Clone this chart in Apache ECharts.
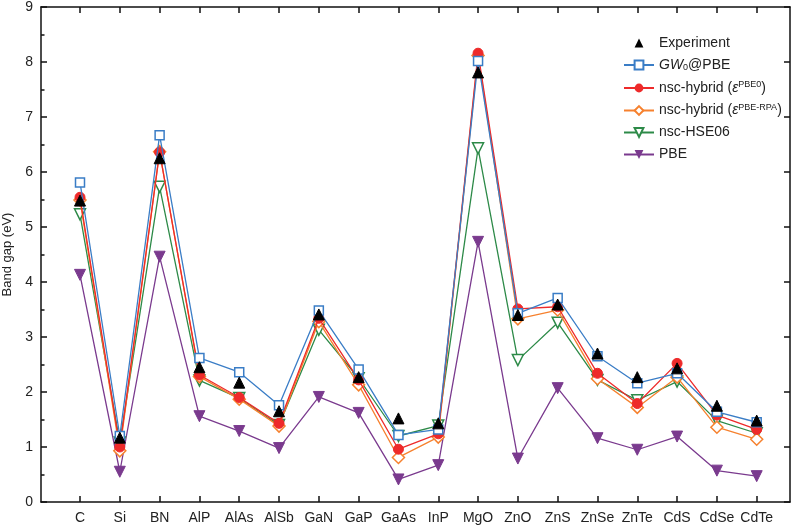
<!DOCTYPE html>
<html>
<head>
<meta charset="utf-8">
<script src="https://cdn.jsdelivr.net/npm/echarts@6/dist/echarts.min.js"></script>
<style>html,body{margin:0;padding:0;background:#fff;}#chart{width:800px;height:527px;}</style>
</head>
<body>
<div id="chart"></div>
<script>
var categories = ['C','Si','BN','AlP','AlAs','AlSb','GaN','GaP','GaAs','InP','MgO','ZnO','ZnS','ZnSe','ZnTe','CdS','CdSe','CdTe'];
var experiment = [5.48,1.17,6.25,2.45,2.17,1.65,3.41,2.27,1.52,1.43,7.81,3.40,3.59,2.70,2.27,2.43,1.75,1.48];
var gw0pbe     = [5.81,1.20,6.67,2.62,2.36,1.76,3.48,2.41,1.22,1.32,8.02,3.43,3.71,2.65,2.16,2.34,1.64,1.45];
var nscPbe0    = [5.54,1.00,6.36,2.31,1.90,1.43,3.34,2.22,0.96,1.24,8.16,3.51,3.55,2.34,1.79,2.52,1.58,1.32];
var nscRpa     = [5.49,0.93,6.37,2.28,1.87,1.38,3.28,2.13,0.81,1.18,8.12,3.33,3.49,2.24,1.72,2.27,1.36,1.14];
var nscHse06   = [5.23,1.08,5.73,2.21,1.89,1.40,3.13,2.25,1.20,1.39,6.43,2.58,3.26,2.22,1.85,2.19,1.48,1.25];
var pbe        = [4.13,0.55,4.46,1.56,1.29,0.98,1.91,1.62,0.41,0.67,4.73,0.79,2.07,1.16,0.95,1.19,0.57,0.47];
var yMin = 0, yMax = 9, yStep = 1;

var FONT = 'Liberation Sans, Arial, sans-serif';
var chart = echarts.init(document.getElementById('chart'), null, {renderer:'canvas'});
function line(show){ return {show:show, onZero:false, lineStyle:{color:'#111', width:1.5}}; }
function tick(){ return {show:true, inside:true, length:6, alignWithLabel:true, lineStyle:{color:'#111', width:1.5}}; }

var option = {
  backgroundColor:'#fff',
  animation:false,
  textStyle:{fontFamily:FONT},
  grid:[
    {left:41, right:10, top:7, bottom:25, containLabel:false, outerBoundsMode:'none'},
    {left:60.1, right:23.4, top:7, bottom:25, containLabel:false, outerBoundsMode:'none'}
  ],
  legend:{
    orient:'vertical', left:618, top:31, itemWidth:30, itemHeight:11, itemGap:8,
    textStyle:{fontFamily:FONT, fontSize:14, color:'#222',
      rich:{
        it:{fontStyle:'italic', fontSize:14, fontFamily:FONT, color:'#222'},
        sub:{fontSize:9, fontFamily:FONT, color:'#222', verticalAlign:'bottom', padding:[6,0,0,0]},
        sup:{fontSize:9, fontFamily:FONT, color:'#222', verticalAlign:'top', padding:[0,0,6,0]},
        n:{fontSize:14, fontFamily:FONT, color:'#222'}
      }},
    formatter:function(name){
      if(name==='GW0@PBE') return '{it|GW}{sub|0}{n|@PBE}';
      if(name==='nsc-hybrid (PBE0)') return '{n|nsc-hybrid (}{it|ε}{sup|PBE0}{n|)}';
      if(name==='nsc-hybrid (PBE-RPA)') return '{n|nsc-hybrid (}{it|ε}{sup|PBE-RPA}{n|)}';
      return name;
    },
    data:['Experiment','GW0@PBE','nsc-hybrid (PBE0)','nsc-hybrid (PBE-RPA)','nsc-HSE06','PBE']
  },
  xAxis:[
    {gridIndex:0, type:'value', min:0, max:1, position:'bottom', axisLine:line(true), axisTick:{show:false}, axisLabel:{show:false}, splitLine:{show:false}},
    {gridIndex:0, type:'value', min:0, max:1, position:'top', axisLine:line(true), axisTick:{show:false}, axisLabel:{show:false}, splitLine:{show:false}},
    {gridIndex:1, type:'category', data:categories, position:'bottom', boundaryGap:true,
     axisLine:line(false), axisTick:tick(),
     axisLabel:{show:true, interval:0, color:'#222', fontSize:14, fontFamily:FONT, margin:9}, splitLine:{show:false}},
    {gridIndex:1, type:'category', data:categories, position:'top', boundaryGap:true,
     axisLine:line(false), axisTick:tick(), axisLabel:{show:false}, splitLine:{show:false}}
  ],
  yAxis:[
    {gridIndex:0, type:'value', min:yMin, max:yMax, interval:yStep, position:'left',
     name:'Band gap (eV)', nameLocation:'middle', nameGap:24, nameRotate:90,
     nameTextStyle:{fontSize:13, color:'#222', fontFamily:FONT},
     axisLine:line(true), axisTick:{show:true, inside:true, length:6, lineStyle:{color:'#111', width:1.5}},
     minorTick:{show:true, splitNumber:2, length:3.5, lineStyle:{color:'#111', width:1.5}},
     axisLabel:{color:'#222', fontSize:14, fontFamily:FONT, margin:8},
     splitLine:{show:false}, minorSplitLine:{show:false}},
    {gridIndex:0, type:'value', min:yMin, max:yMax, interval:yStep, position:'right',
     axisLine:line(true), axisTick:{show:true, inside:true, length:6, lineStyle:{color:'#111', width:1.5}},
     axisLabel:{show:false}, splitLine:{show:false}},
    {gridIndex:1, type:'value', min:yMin, max:yMax, interval:yStep, position:'left',
     axisLine:line(false), axisTick:{show:false}, axisLabel:{show:false}, splitLine:{show:false}}
  ],
  series:[
    {name:'Experiment', type:'line', xAxisIndex:2, yAxisIndex:2, data:experiment, symbol:'triangle', symbolSize:11,
     lineStyle:{width:0, opacity:0}, itemStyle:{color:'#000', borderColor:'#000'}, z:10},
    {name:'GW0@PBE', type:'line', xAxisIndex:2, yAxisIndex:2, data:gw0pbe, symbol:'rect', symbolSize:9, z:8,
     lineStyle:{color:'#3a7dc6', width:1.3}, itemStyle:{color:'#fff', borderColor:'#3a7dc6', borderWidth:1.5}},
    {name:'nsc-hybrid (PBE0)', type:'line', xAxisIndex:2, yAxisIndex:2, data:nscPbe0, symbol:'circle', symbolSize:10, z:7,
     lineStyle:{color:'#ee2a2a', width:1.3}, itemStyle:{color:'#ee2a2a', borderColor:'#ee2a2a'}},
    {name:'nsc-hybrid (PBE-RPA)', type:'line', xAxisIndex:2, yAxisIndex:2, data:nscRpa, symbol:'diamond', symbolSize:12, z:6,
     lineStyle:{color:'#f6812e', width:1.3}, itemStyle:{color:'#fff', borderColor:'#f6812e', borderWidth:1.5}},
    {name:'nsc-HSE06', type:'line', xAxisIndex:2, yAxisIndex:2, data:nscHse06, symbol:'triangle', symbolRotate:180, symbolSize:11, z:5,
     lineStyle:{color:'#2d8a48', width:1.3}, itemStyle:{color:'#fff', borderColor:'#2d8a48', borderWidth:1.5}},
    {name:'PBE', type:'line', xAxisIndex:2, yAxisIndex:2, data:pbe, symbol:'triangle', symbolRotate:180, symbolSize:11, z:4,
     lineStyle:{color:'#7a3a8e', width:1.3}, itemStyle:{color:'#7a3a8e', borderColor:'#7a3a8e'}}
  ]
};
chart.setOption(option);
</script>
</body>
</html>
